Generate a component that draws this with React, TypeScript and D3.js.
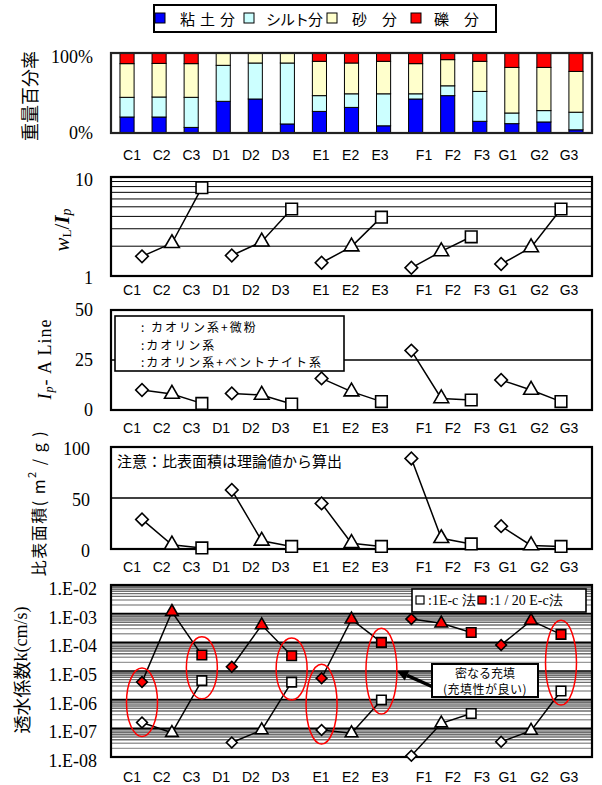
import React from 'react';
import * as d3 from 'd3';

// ---------- data ----------
const categories = ['C1', 'C2', 'C3', 'D1', 'D2', 'D3', 'E1', 'E2', 'E3', 'F1', 'F2', 'F3', 'G1', 'G2', 'G3'];
const labelSlots = [0, 1, 2, 3, 4, 5, 6.36, 7.36, 8.35, 9.83, 10.8, 11.78, 12.65, 13.72, 14.71];

const clay = [20, 20, 7, 39.6, 42.5, 11.3, 27, 32, 9, 42.5, 46.7, 14.6, 11.7, 13.8, 4];
const silt = [24.6, 25, 37.6, 45, 45, 76.2, 19.7, 17, 40, 6.5, 12.3, 37.4, 13.3, 14.2, 22];
const sand = [42.1, 42, 42.1, 15.4, 12.5, 12.5, 42.9, 38.5, 40.6, 37.7, 32.7, 37.6, 57, 54, 51];
const gravel = [13.3, 13, 13.3, 0, 0, 0, 10.4, 12.5, 10.4, 13.3, 8.3, 10.4, 18, 18, 23];

const wlIp = [1.58, 2.14, 7.8, 1.61, 2.22, 4.75, 1.36, 1.98, 3.93, 1.21, 1.77, 2.49, 1.32, 1.94, 4.75];
const ipA = [10, 8, 3.3, 8.3, 7.5, 3, 15.8, 9.2, 4.2, 29.7, 5.8, 5, 15, 10, 4.2];
const ssa = [29, 4.2, 1, 57.8, 8, 2.5, 44.7, 5.7, 2.5, 88.8, 10.5, 5, 22.4, 3.5, 2.5];
const kStd = [1.6e-7, 7e-8, 4.6e-6, 3.2e-8, 8.7e-8, 4.1e-6, 8.7e-8, 6.8e-8, 9.8e-7, 1.1e-8, 1.5e-7, 3.3e-7, 3.4e-8, 8.3e-8, 2.0e-6];
const kLow = [4.1e-6, 1.17e-3, 3.6e-5, 1.4e-5, 4.0e-4, 3.4e-5, 5.6e-6, 6.3e-4, 1.0e-4, 6.5e-4, 4.6e-4, 2.2e-4, 8.1e-5, 5.7e-4, 1.9e-4];
const markerType = [0, 1, 2, 0, 1, 2, 0, 1, 2, 0, 1, 2, 0, 1, 2]; // 0 diamond, 1 triangle, 2 square
const groups = [[0, 1, 2], [3, 4, 5], [6, 7, 8], [9, 10, 11], [12, 13, 14]];
const circled = [0, 2, 5, 6, 8, 14];

const gradeKeys = ['clay', 'silt', 'sand', 'gravel'];
const gradeNames = ['粘土分', 'シルト分', '砂　分', '礫　分'];
const gradeColors = ['#0000FF', '#CCFFFF', '#FFFFCC', '#FF0000'];
const kTicks = ['1.E-02', '1.E-03', '1.E-04', '1.E-05', '1.E-06', '1.E-07', '1.E-08'];
const ipLegend = [': カオリン系+微粉', ':カオリン系', ':カオリン系+ベントナイト系'];

// ---------- layout ----------
const X0 = 111, X1 = 592;
const SANS = '"Liberation Sans", Arial, sans-serif';
const SERIF = '"Liberation Serif", "Times New Roman", serif';
const CJK = '"Noto Sans CJK JP", "Noto Sans CJK SC", sans-serif';

const xPt = d3.scaleLinear().domain([0, 14]).range([X0 + 31, X1 - 31]);
const xLab = d3.scaleLinear().domain([0, 14.71]).range([132, 569]);
const xBand = d3.scaleBand<string>().domain(categories).range([X0, X1]).paddingInner(0.56).paddingOuter(0.28);

const yPct = d3.scaleLinear().domain([0, 100]).range([133, 53]);
const yW = d3.scaleLog().domain([1, 10]).range([276, 177]);
const yI = d3.scaleLinear().domain([0, 50]).range([410, 310]);
const yS = d3.scaleLinear().domain([0, 100]).range([549, 447]);
const yK = d3.scaleLog().domain([1e-8, 1e-2]).range([757, 585]);

function markerPath(type: number, big: boolean) {
  if (type === 0) return d3.symbol(d3.symbolSquare, big ? 80 : 58)();
  if (type === 1) return d3.symbol(d3.symbolTriangle, big ? 95 : 68)();
  return d3.symbol(d3.symbolSquare, big ? 135 : 90)();
}

function Marker({ type, x, y, big, fill }: { type: number; x: number; y: number; big: boolean; fill: string }) {
  const rot = type === 0 ? ' rotate(45)' : '';
  return (
    <path d={markerPath(type, big) || ''} transform={`translate(${x},${y})${rot}`} fill={fill} stroke="#000" strokeWidth={1.6} />
  );
}

function CatLabels({ y }: { y: number }) {
  return (
    <g>
      {categories.map((c, i) => (
        <text key={c} x={xLab(labelSlots[i])} y={y} textAnchor="middle" dominantBaseline="central" fontFamily={SANS} fontSize={14}>
          {c}
        </text>
      ))}
    </g>
  );
}

function Series({ values, yScale, big, fill }: { values: number[]; yScale: (v: number) => number; big: boolean; fill: string }) {
  const line = d3.line<number>().x((i) => xPt(i)).y((i) => yScale(values[i]));
  return (
    <g>
      {groups.map((g, k) => (
        <path key={k} d={line(g) || ''} fill="none" stroke="#000" strokeWidth={1.5} />
      ))}
      {values.map((v, i) => (
        <Marker key={i} type={markerType[i]} x={xPt(i)} y={yScale(v)} big={big} fill={fill} />
      ))}
    </g>
  );
}

function Frame({ y0, y1 }: { y0: number; y1: number }) {
  return <rect x={X0} y={y0} width={X1 - X0} height={y1 - y0} fill="none" stroke="#000" strokeWidth={2.2} />;
}

export default function App() {
  const rows = categories.map((c, i) => ({ clay: clay[i], silt: silt[i], sand: sand[i], gravel: gravel[i] }));
  const stacked = d3.stack<any>().keys(gradeKeys)(rows);

  // legend layout for top chart
  const legItems = [
    { sq: 160, tx: 180, ls: 5 },
    { sq: 249, tx: 266, ls: -1 },
    { sq: 332, tx: 352, ls: 0 },
    { sq: 416, tx: 434, ls: 0 },
  ];

  const minorW = [2, 3, 4, 5, 6, 7, 8, 9];
  const kMinor: number[] = [];
  for (let e = -8; e < -2; e++) for (const m of [2, 3, 4, 5, 6, 7, 8, 9]) kMinor.push(m * Math.pow(10, e));
  const kMajor = [1e-7, 1e-6, 1e-5, 1e-4, 1e-3];

  // arrow geometry
  const tip = [397, 671], tail = [433, 687];
  const dx = tip[0] - tail[0], dy = tip[1] - tail[1];
  const len = Math.hypot(dx, dy);
  const ux = dx / len, uy = dy / len;
  const bx = tip[0] - ux * 11, by = tip[1] - uy * 11;
  const nx = -uy, ny = ux;
  const head = `${tip[0]},${tip[1]} ${bx + nx * 5.5},${by + ny * 5.5} ${bx - nx * 5.5},${by - ny * 5.5}`;

  return (
    <svg width={602} height={785} style={{ position: 'absolute', left: 0, top: 0, background: '#fff' }}>
      <rect x={0} y={0} width={602} height={785} fill="#fff" />

      {/* ---------- Panel 1: grading ---------- */}
      <rect x={154} y={5} width={342} height={27} fill="#fff" stroke="#000" strokeWidth={2} />
      {legItems.map((it, i) => (
        <g key={i}>
          <rect x={it.sq - 5} y={13} width={10} height={10} fill={gradeColors[i]} stroke="#000" strokeWidth={1} />
          <text x={it.tx} y={18.5} dominantBaseline="central" fontFamily={CJK} fontSize={15} letterSpacing={it.ls}>
            {gradeNames[i]}
          </text>
        </g>
      ))}
      <text transform="translate(29,96) rotate(-90)" textAnchor="middle" dominantBaseline="central" fontFamily={CJK} fontSize={18}>
        重量百分率
      </text>
      <text x={93} y={yPct(100) + 4} textAnchor="end" dominantBaseline="central" fontFamily={SERIF} fontSize={18}>100%</text>
      <text x={93} y={yPct(0)} textAnchor="end" dominantBaseline="central" fontFamily={SERIF} fontSize={18}>0%</text>
      {stacked.map((layer, k) => (
        <g key={k}>
          {layer.map((d, i) => (
            <rect
              key={i}
              x={xBand(categories[i])}
              y={yPct(d[1])}
              width={xBand.bandwidth()}
              height={Math.max(0, yPct(d[0]) - yPct(d[1]))}
              fill={gradeColors[k]}
              stroke={d[1] - d[0] > 0 ? '#000' : 'none'}
              strokeWidth={1}
            />
          ))}
        </g>
      ))}
      <rect x={X0} y={53} width={X1 - X0} height={80} fill="none" stroke="#222" strokeWidth={2.2} />
      <CatLabels y={155} />

      {/* ---------- Panel 2: wL/Ip ---------- */}
      {minorW.map((m) => (
        <line key={m} x1={X0} x2={X1} y1={yW(m)} y2={yW(m)} stroke="#000" strokeWidth={1} />
      ))}
      <Frame y0={177} y1={276} />
      <text x={93} y={yW(10) + 3} textAnchor="end" dominantBaseline="central" fontFamily={SERIF} fontSize={18}>10</text>
      <text x={93} y={yW(1) + 2} textAnchor="end" dominantBaseline="central" fontFamily={SERIF} fontSize={18}>1</text>
      <text transform="translate(62,230) rotate(-90)" textAnchor="middle" dominantBaseline="central" fontFamily={SERIF} fontSize={21}>
        <tspan fontStyle="italic">w</tspan>
        <tspan fontSize={13} dy={4}>L</tspan>
        <tspan dy={-4}>/</tspan>
        <tspan fontStyle="italic" fontWeight="bold">I</tspan>
        <tspan fontStyle="italic" fontSize={14} dy={4}>p</tspan>
      </text>
      <Series values={wlIp} yScale={yW} big fill="#fff" />
      <CatLabels y={290} />

      {/* ---------- Panel 3: Ip - A line ---------- */}
      <line x1={X0} x2={X1} y1={yI(25)} y2={yI(25)} stroke="#000" strokeWidth={1.5} />
      <Frame y0={310} y1={410} />
      {[50, 25, 0].map((v) => (
        <text key={v} x={93} y={yI(v)} textAnchor="end" dominantBaseline="central" fontFamily={SERIF} fontSize={18}>{v}</text>
      ))}
      <text transform="translate(45,359) rotate(-90)" textAnchor="middle" dominantBaseline="central" fontFamily={SERIF} fontSize={18} letterSpacing={1}>
        <tspan fontStyle="italic">I</tspan>
        <tspan fontStyle="italic" fontSize={12} dy={4}>p</tspan>
        <tspan dy={-4}>- A Line</tspan>
      </text>
      <Series values={ipA} yScale={yI} big fill="#fff" />
      <rect x={115} y={316} width={229} height={55} fill="#fff" stroke="#000" strokeWidth={1.6} />
      {ipLegend.map((t, i) => (
        <text key={i} x={141} y={326.5 + i * 17.5} dominantBaseline="central" fontFamily={CJK} fontSize={12} letterSpacing={2}>{t}</text>
      ))}
      <CatLabels y={428} />

      {/* ---------- Panel 4: specific surface ---------- */}
      <line x1={X0} x2={X1} y1={yS(50)} y2={yS(50)} stroke="#000" strokeWidth={1.5} />
      <Frame y0={447} y1={549} />
      {[100, 50, 0].map((v) => (
        <text key={v} x={90} y={yS(v) + 2} textAnchor="end" dominantBaseline="central" fontFamily={SERIF} fontSize={18}>{v}</text>
      ))}
      <text transform="translate(38,503) rotate(-90)" textAnchor="middle" dominantBaseline="central" fontFamily={CJK} fontSize={16} letterSpacing={1.5}>
        <tspan>比表面積( m</tspan>
        <tspan fontSize={11} dy={-7}>2</tspan>
        <tspan dy={7}> / g )</tspan>
      </text>
      <text x={117} y={460} dominantBaseline="central" fontFamily={CJK} fontSize={15}>注意：比表面積は理論値から算出</text>
      <Series values={ssa} yScale={yS} big fill="#fff" />
      <CatLabels y={567} />

      {/* ---------- Panel 5: permeability ---------- */}
      <rect x={X0} y={585} width={X1 - X0} height={172} fill="#fff" />
      {kMinor.map((v, i) => (
        <line key={i} x1={X0} x2={X1} y1={yK(v)} y2={yK(v)} stroke={v / Math.pow(10, Math.floor(Math.log10(v) + 1e-9)) >= 4 ? '#6e6e6e' : '#999'} strokeWidth={1.4} />
      ))}
      {kMajor.map((v) => (
        <line key={v} x1={X0} x2={X1} y1={yK(v)} y2={yK(v)} stroke="#000" strokeWidth={1.6} />
      ))}
      <Frame y0={585} y1={757} />
      {kTicks.map((t, i) => (
        <text key={t} x={97} y={yK(Math.pow(10, -2 - i)) + 4} textAnchor="end" dominantBaseline="central" fontFamily={SERIF} fontSize={18}>{t}</text>
      ))}
      <text transform="translate(21,670) rotate(-90)" textAnchor="middle" dominantBaseline="central" fontSize={18}>
        <tspan fontFamily={CJK}>透水係数</tspan>
        <tspan fontFamily={SERIF}>k(cm/s)</tspan>
      </text>
      <Series values={kStd} yScale={yK} big={false} fill="#fff" />
      <Series values={kLow} yScale={yK} big={false} fill="#FF0000" />
      {circled.map((i) => {
        const ya = yK(kStd[i]), yb = yK(kLow[i]);
        const ry = Math.max(31, Math.abs(ya - yb) / 2 + 14);
        return <ellipse key={i} cx={xPt(i)} cy={(ya + yb) / 2} rx={15.5} ry={ry} fill="none" stroke="#FF0000" strokeWidth={1.5} />;
      })}
      {/* legend */}
      <rect x={412} y={589} width={174} height={23} fill="#fff" stroke="#000" strokeWidth={1.6} />
      <rect x={416} y={596} width={8} height={8} fill="#fff" stroke="#000" strokeWidth={1.2} />
      <text x={428} y={600.5} dominantBaseline="central" fontFamily={SERIF} fontSize={14}>:1E-c 法</text>
      <rect x={478} y={596} width={8} height={8} fill="#FF0000" stroke="#000" strokeWidth={1.2} />
      <text x={490} y={600.5} dominantBaseline="central" fontFamily={SERIF} fontSize={14}>:1 / 20 E-c法</text>
      {/* callout */}
      <line x1={tail[0]} y1={tail[1]} x2={bx} y2={by} stroke="#000" strokeWidth={3.5} />
      <polygon points={head} fill="#000" />
      <rect x={432} y={664} width={106} height={33} fill="#fff" stroke="#000" strokeWidth={2} />
      <text x={485} y={672.5} textAnchor="middle" dominantBaseline="central" fontFamily={CJK} fontSize={12}>密なる充填</text>
      <text x={485} y={688.5} textAnchor="middle" dominantBaseline="central" fontFamily={CJK} fontSize={12} letterSpacing={0.5}>(充填性が良い)</text>
      <CatLabels y={777} />
    </svg>
  );
}
